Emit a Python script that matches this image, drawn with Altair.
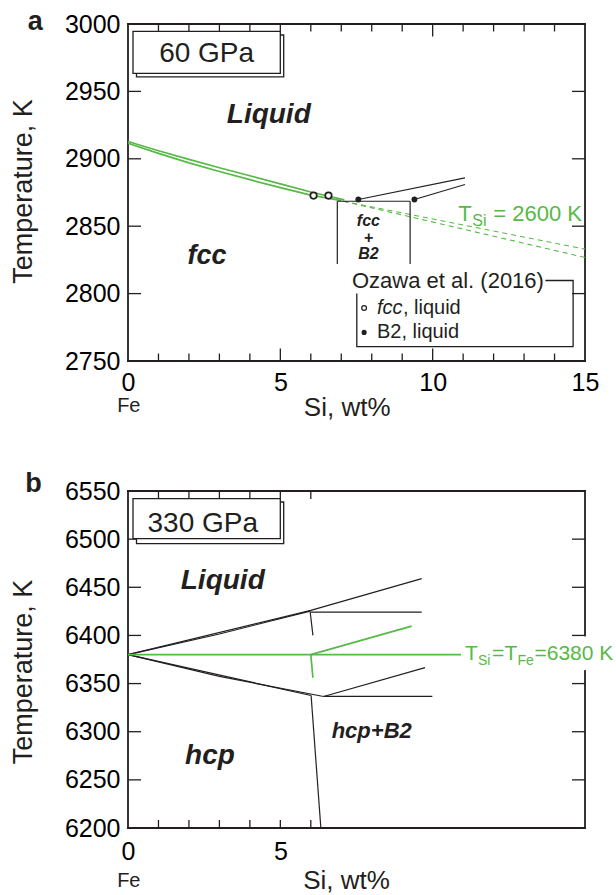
import altair as alt
import pandas as pd

FONT = "Liberation Sans"
GREEN = "#57B947"
INK = "#231F20"
W, H = 457, 337

# ---------------- Panel a : 60 GPa ----------------
a_x_domain = [0, 15]
a_T_domain = [2750, 3000]
a_x_labels = [0, 5, 10, 15]
a_T_labels = [2750, 2800, 2850, 2900, 2950, 3000]
a_x_minor = [1, 2, 3, 4, 6, 7, 8, 9, 11, 12, 13, 14]
a_x_major = [5, 10]
a_T_ticks = [2800, 2850, 2900, 2950]

a_liq1_x = [0, 1, 2, 3, 4, 5, 6, 7.1]
a_liq1_T = [2912.8, 2906.0, 2899.6, 2893.4, 2887.4, 2881.4, 2875.4, 2869.5]
a_liq2_x = [0, 1, 2, 3, 4, 5, 6, 7.0]
a_liq2_T = [2911.5, 2904.0, 2897.0, 2890.6, 2884.5, 2878.6, 2873.0, 2869.0]
a_ext1_x = [7.07, 15.0]
a_ext1_T = [2868.5, 2833.0]
a_ext2_x = [7.07, 15.0]
a_ext2_T = [2868.5, 2826.8]
a_eut_x = [6.87, 9.26]
a_eut_T = [2868.5, 2868.5]
a_solv1_x = [6.87, 6.87]
a_solv1_T = [2868.5, 2822.0]
a_solv2_x = [9.26, 9.26]
a_solv2_T = [2868.5, 2822.0]
a_b2liq1_x = [7.56, 11.06]
a_b2liq1_T = [2869.8, 2885.8]
a_b2liq2_x = [9.40, 11.06]
a_b2liq2_T = [2869.8, 2880.9]
a_fcc_pts_x = [6.09, 6.58]
a_fcc_pts_T = [2872.7, 2872.7]
a_b2_pts_x = [7.56, 9.40]
a_b2_pts_T = [2869.8, 2869.8]

# ---------------- Panel b : 330 GPa ----------------
b_x_domain = [0, 15]
b_T_domain = [6200, 6550]
b_x_labels = [0, 5]
b_T_labels = [6200, 6250, 6300, 6350, 6400, 6450, 6500, 6550]
b_x_minor = [1, 2, 3, 4, 5, 6]
b_T_ticks = [6250, 6300, 6350, 6400, 6450, 6500]

b_up1_x = [0, 6.0, 9.64]
b_up1_T = [6380, 6426.0, 6459.0]
b_up2_x = [0, 3.0, 5.98]
b_up2_T = [6380, 6401.5, 6425.3]
b_uph_x = [5.98, 9.64]
b_uph_T = [6424.3, 6424.3]
b_upv_x = [5.98, 6.07]
b_upv_T = [6424.3, 6400.0]
b_lo1_x = [0, 6.01]
b_lo1_T = [6380, 6337.6]
b_lo2_x = [0, 3.0, 6.42]
b_lo2_T = [6380, 6357.5, 6336.6]
b_lor_x = [6.42, 9.75]
b_lor_T = [6336.6, 6366.5]
b_loh_x = [6.42, 9.99]
b_loh_T = [6336.6, 6336.6]
b_lov_x = [6.01, 6.33]
b_lov_T = [6337.6, 6200.0]
b_g_h_x = [0, 10.93]
b_g_h_T = [6380, 6380]
b_g_r_x = [6.0, 9.31]
b_g_r_T = [6380, 6409.7]
b_g_v_x = [6.0, 6.07]
b_g_v_T = [6380, 6356.0]


def seg_df(*segs):
    rows = []
    for k, (xs, ts) in enumerate(segs):
        for j, (x, t) in enumerate(zip(xs, ts)):
            rows.append({"seg": k, "ord": j, "x": x, "T": t})
    return pd.DataFrame(rows)


def encoders(x_dom, T_dom, x_lab, T_lab, xpad):
    xs = alt.Scale(domain=x_dom, nice=False, zero=False)
    ys = alt.Scale(domain=T_dom, nice=False, zero=False)
    common = dict(ticks=False, tickSize=0, domain=False, grid=False,
                  labelFont=FONT, labelFontSize=25, labelColor="black",
                  labelFlush=False, labelOverlap=False, format="d")
    xa = alt.Axis(values=x_lab, labelPadding=xpad, labelAngle=0, **common)
    ya = alt.Axis(values=T_lab, labelPadding=8, **common)

    def X(f):
        return alt.X(f, type="quantitative", scale=xs, axis=xa, title=None)

    def Y(f):
        return alt.Y(f, type="quantitative", scale=ys, axis=ya, title=None)

    return X, Y


def one():
    return pd.DataFrame({"k": [0]})


def lines(X, Y, df, color, width, dash=None):
    kw = dict(color=color, strokeWidth=width)
    if dash:
        kw["strokeDash"] = dash
    return alt.Chart(df).mark_line(**kw).encode(
        x=X("x"), y=Y("T"), detail="seg:N", order="ord:Q")


def frame(X, Y, x_dom, T_dom):
    lr = alt.Chart(pd.DataFrame({"x": x_dom})).mark_rule(
        color=INK, strokeWidth=1.8, strokeCap="square").encode(
        x=X("x"), y=alt.value(0), y2=alt.value(H))
    tb = alt.Chart(pd.DataFrame({"T": T_dom})).mark_rule(
        color=INK, strokeWidth=1.8, strokeCap="square").encode(
        y=Y("T"), x=alt.value(0), x2=alt.value(W))
    return [lr, tb]


def xticks(X, vals, length):
    df = pd.DataFrame({"x": vals})
    bot = alt.Chart(df).mark_rule(color=INK, strokeWidth=1.3).encode(
        x=X("x"), y=alt.value(H - length), y2=alt.value(H))
    top = alt.Chart(df).mark_rule(color=INK, strokeWidth=1.3).encode(
        x=X("x"), y=alt.value(0), y2=alt.value(length))
    return [bot, top]


def yticks(Y, vals, length):
    df = pd.DataFrame({"T": vals})
    left = alt.Chart(df).mark_rule(color=INK, strokeWidth=1.3).encode(
        y=Y("T"), x=alt.value(0), x2=alt.value(length))
    right = alt.Chart(df).mark_rule(color=INK, strokeWidth=1.3).encode(
        y=Y("T"), x=alt.value(W - length), x2=alt.value(W))
    return [left, right]


def dtext(X, Y, x, T, s, size, color=INK, **kw):
    df = pd.DataFrame({"x": [x], "T": [T], "s": [s]})
    return alt.Chart(df).mark_text(font=FONT, fontSize=size, color=color, **kw).encode(
        x=X("x"), y=Y("T"), text="s:N")


def ptext(px, py, s, size, **kw):
    df = pd.DataFrame({"s": [s]})
    return alt.Chart(df).mark_text(font=FONT, fontSize=size, color=INK, **kw).encode(
        x=alt.value(px), y=alt.value(py), text="s:N")


def box(x0, x1, y0, y1, sx0, sx1, sy0, sy1):
    shadow = alt.Chart(one()).mark_rect(fill="white", stroke=INK, strokeWidth=1.3).encode(
        x=alt.value(sx0), x2=alt.value(sx1), y=alt.value(sy0), y2=alt.value(sy1))
    main = alt.Chart(one()).mark_rect(fill="white", stroke=INK, strokeWidth=1.3).encode(
        x=alt.value(x0), x2=alt.value(x1), y=alt.value(y0), y2=alt.value(y1))
    return [shadow, main]


# ================= Panel a =================
Xa, Ya = encoders(a_x_domain, a_T_domain, a_x_labels, a_T_labels, 9)

anchor = alt.Chart(one()).mark_rule(strokeOpacity=0, opacity=0).encode(
    x=alt.value(-127.7), x2=alt.value(-126.7), y=alt.value(-23.3), y2=alt.value(-22.3))

a_layers = [anchor]
a_layers += frame(Xa, Ya, a_x_domain, a_T_domain)
a_layers += xticks(Xa, a_x_minor, 7.5)
a_layers += xticks(Xa, a_x_major, 12.5)
a_layers += yticks(Ya, a_T_ticks, 13)
a_layers.append(lines(Xa, Ya, seg_df((a_ext1_x, a_ext1_T), (a_ext2_x, a_ext2_T)),
                      GREEN, 1.1, [5, 4]))
a_layers.append(lines(Xa, Ya, seg_df((a_liq1_x, a_liq1_T), (a_liq2_x, a_liq2_T)),
                      GREEN, 1.7))
a_layers.append(lines(Xa, Ya, seg_df((a_eut_x, a_eut_T), (a_solv1_x, a_solv1_T),
                                     (a_solv2_x, a_solv2_T), (a_b2liq1_x, a_b2liq1_T),
                                     (a_b2liq2_x, a_b2liq2_T)), INK, 1.2))
a_layers.append(alt.Chart(pd.DataFrame({"x": a_fcc_pts_x, "T": a_fcc_pts_T})).mark_point(
    shape="circle", filled=True, fill="white", stroke=INK, strokeWidth=1.7, size=42,
    opacity=1).encode(x=Xa("x"), y=Ya("T")))
a_layers.append(alt.Chart(pd.DataFrame({"x": a_b2_pts_x, "T": a_b2_pts_T})).mark_point(
    shape="circle", filled=True, fill=INK, size=34, opacity=1).encode(x=Xa("x"), y=Ya("T")))

# legend (Ozawa et al. 2016)
leg_box = seg_df(([13.70, 14.61, 14.61, 7.51, 7.51], [2809.7, 2809.7, 2760.7, 2760.7, 2800.0]))
a_layers.append(lines(Xa, Ya, leg_box, INK, 1.3))
a_layers.append(dtext(Xa, Ya, 7.35, 2809.7, "Ozawa et al. (2016)", 22, align="left", baseline="middle"))
a_layers.append(alt.Chart(pd.DataFrame({"x": [7.75], "T": [2789.3]})).mark_point(
    shape="circle", filled=True, fill="white", stroke=INK, strokeWidth=1.3, size=22,
    opacity=1).encode(x=Xa("x"), y=Ya("T")))
a_layers.append(alt.Chart(pd.DataFrame({"x": [7.75], "T": [2771.2]})).mark_point(
    shape="circle", filled=True, fill=INK, size=26, opacity=1).encode(x=Xa("x"), y=Ya("T")))
a_layers.append(dtext(Xa, Ya, 8.17, 2789.3, "fcc", 20, align="left", baseline="middle", fontStyle="italic"))
a_layers.append(dtext(Xa, Ya, 8.17, 2789.3, ", liquid", 20, align="left", baseline="middle", dx=26))
a_layers.append(dtext(Xa, Ya, 8.17, 2771.2, "B2, liquid", 20, align="left", baseline="middle"))

# 60 GPa box
a_layers += box(5, 152.3, 7.4, 49.4, 8.5, 155.7, 11, 52.8)
a_layers.append(ptext(78.6, 30, "60 GPa", 28, align="center", baseline="middle"))

# region labels
a_layers.append(dtext(Xa, Ya, 4.62, 2926.3, "Liquid", 28, align="center", baseline="alphabetic",
                      fontStyle="italic", fontWeight="bold"))
a_layers.append(dtext(Xa, Ya, 2.59, 2822.1, "fcc", 27, align="center", baseline="alphabetic",
                      fontStyle="italic", fontWeight="bold"))
# stacked "fcc / + / B2" label as one multi-line text
a_layers.append(alt.Chart(pd.DataFrame({"x": [7.89], "T": [2850.0]})).mark_text(
    text=["fcc", "+", "B2"], lineHeight=16.5, font=FONT, fontSize=16, color=INK,
    align="center", baseline="alphabetic", fontStyle="italic", fontWeight="bold"
).encode(x=Xa("x"), y=Ya("T")))

# T_Si = 2600 K
a_layers.append(dtext(Xa, Ya, 10.84, 2854.2, "T", 22, color=GREEN, align="left", baseline="alphabetic"))
a_layers.append(dtext(Xa, Ya, 10.84, 2854.2, "Si", 16, color=GREEN, align="left", baseline="alphabetic", dx=14, dy=5))
a_layers.append(dtext(Xa, Ya, 10.84, 2854.2, "= 2600 K", 22, color=GREEN, align="left", baseline="alphabetic", dx=35))

# panel letter and axis titles
a_layers.append(ptext(-92.7, 6, "a", 27, align="center", baseline="alphabetic", fontWeight="bold"))
a_layers.append(ptext(-103.6, 167.5, "Temperature, K", 27, align="center", baseline="middle", angle=270))
a_layers.append(ptext(219.2, 391.7, "Si, wt%", 26, align="center", baseline="alphabetic"))
a_layers.append(ptext(0.8, 388.4, "Fe", 20, align="center", baseline="alphabetic"))

panel_a = alt.layer(*a_layers).properties(width=W, height=H)

# ================= Panel b =================
Xb, Yb = encoders(b_x_domain, b_T_domain, b_x_labels, b_T_labels, 11)

b_layers = []
b_layers += frame(Xb, Yb, b_x_domain, b_T_domain)
b_layers += xticks(Xb, b_x_minor, 8)
b_layers += yticks(Yb, b_T_ticks, 13)
# gap in the right axis behind the label
b_layers.append(alt.Chart(pd.DataFrame({"T": [6399.0], "T2": [6364.0]})).mark_rule(
    color="white", strokeWidth=5).encode(x=alt.value(W), y=Yb("T"), y2="T2"))
b_layers.append(lines(Xb, Yb, seg_df((b_up1_x, b_up1_T), (b_up2_x, b_up2_T), (b_uph_x, b_uph_T),
                                     (b_upv_x, b_upv_T), (b_lo1_x, b_lo1_T), (b_lo2_x, b_lo2_T),
                                     (b_lor_x, b_lor_T), (b_loh_x, b_loh_T), (b_lov_x, b_lov_T)),
                      INK, 1.2))
b_layers.append(lines(Xb, Yb, seg_df((b_g_h_x, b_g_h_T), (b_g_r_x, b_g_r_T), (b_g_v_x, b_g_v_T)),
                      GREEN, 1.7))

b_layers += box(5, 152.3, 7.6, 47.6, 8.5, 155.7, 11, 52.6)
b_layers.append(ptext(74.8, 32.6, "330 GPa", 28, align="center", baseline="middle"))

b_layers.append(dtext(Xb, Yb, 3.11, 6448.6, "Liquid", 28, align="center", baseline="alphabetic",
                      fontStyle="italic", fontWeight="bold"))
b_layers.append(dtext(Xb, Yb, 2.69, 6266.7, "hcp", 28, align="center", baseline="alphabetic",
                      fontStyle="italic", fontWeight="bold"))
b_layers.append(dtext(Xb, Yb, 8.0, 6293.7, "hcp+B2", 22, align="center", baseline="alphabetic",
                      fontStyle="italic", fontWeight="bold"))

# T_Si = T_Fe = 6380 K
for s, size, dx, dy in [("T", 21, 0, 0), ("Si", 14, 13, 5), ("=", 21, 27, 0),
                        ("T", 21, 39.5, 0), ("Fe", 14, 52.5, 5), ("=6380 K", 21, 69.5, 0)]:
    b_layers.append(dtext(Xb, Yb, 11.06, 6374.1, s, size, color=GREEN, align="left",
                          baseline="alphabetic", dx=dx, dy=dy))

b_layers.append(ptext(-94.4, 1, "b", 27, align="center", baseline="alphabetic", fontWeight="bold"))
b_layers.append(ptext(-103.6, 181, "Temperature, K", 27, align="center", baseline="middle", angle=270))
b_layers.append(ptext(218.6, 397.6, "Si, wt%", 26, align="center", baseline="alphabetic"))
b_layers.append(ptext(0.8, 396, "Fe", 20, align="center", baseline="alphabetic"))

panel_b = alt.layer(*b_layers).properties(width=W, height=H)

chart = alt.vconcat(panel_a, panel_b, spacing=130, bounds="flush").properties(
    padding=0, background="white"
).configure_view(stroke=None)

chart.save("out.html", embed_options={"renderer": "svg", "actions": False})
